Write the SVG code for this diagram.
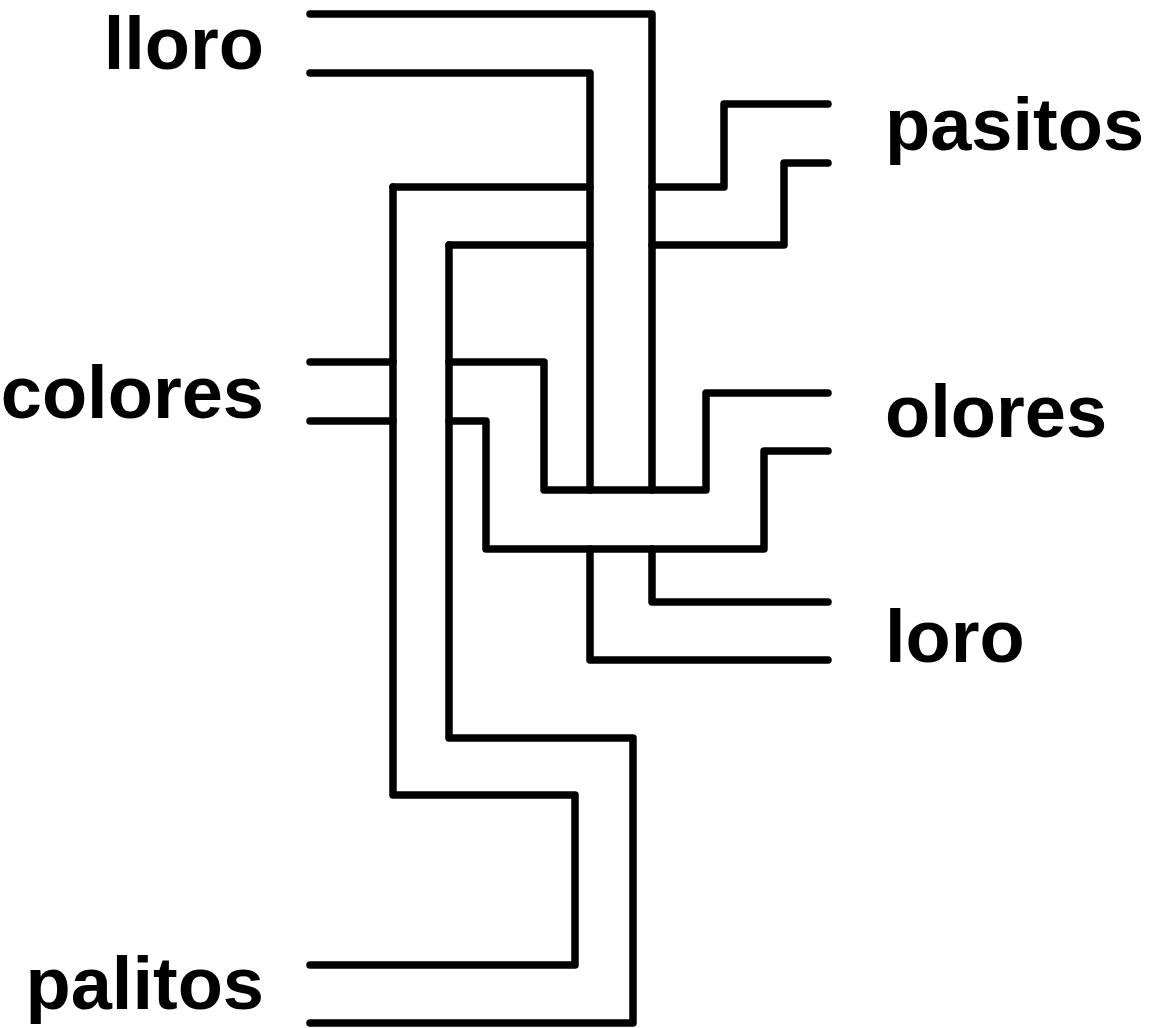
<svg xmlns="http://www.w3.org/2000/svg" width="1151" height="1028" viewBox="0 0 1151 1028">
<style>
.w{fill:none;stroke:#000;stroke-width:7.5;stroke-linecap:round;stroke-linejoin:round}
.t{font-family:"Liberation Sans",Arial,sans-serif;font-weight:bold;font-size:74px;fill:#000}
</style>
<rect width="1151" height="1028" fill="#fff"/>
<g id="connectors" class="w">
<path d="M310,14 H652 V490"/>
<path d="M310,73 H590 V490"/>
<path d="M393,187 H590"/>
<path d="M652,187 H724 V104 H828"/>
<path d="M449,245 H590"/>
<path d="M652,245 H784 V163 H828"/>
<path d="M393,187 V795 H575 V965 H310"/>
<path d="M449,245 V738 H633 V1023 H310"/>
<path d="M310,362 H393"/>
<path d="M310,421 H393"/>
<path d="M449,362 H544 V490 H706 V393 H828"/>
<path d="M449,421 H486 V549 H764 V451 H828"/>
<path d="M652,549 V602 H828"/>
<path d="M590,549 V660 H828"/>
</g>
<g id="lloro"><text class="t" x="264" y="69" text-anchor="end">lloro</text></g>
<g id="colores"><text class="t" x="264" y="418" text-anchor="end">colores</text></g>
<g id="palitos"><text class="t" x="264" y="1009" text-anchor="end">palitos</text></g>
<g id="pasitos"><text class="t" x="885" y="150" text-anchor="start">pasitos</text></g>
<g id="olores"><text class="t" x="885" y="437" text-anchor="start">olores</text></g>
<g id="loro"><text class="t" x="885" y="662" text-anchor="start">loro</text></g>
</svg>
